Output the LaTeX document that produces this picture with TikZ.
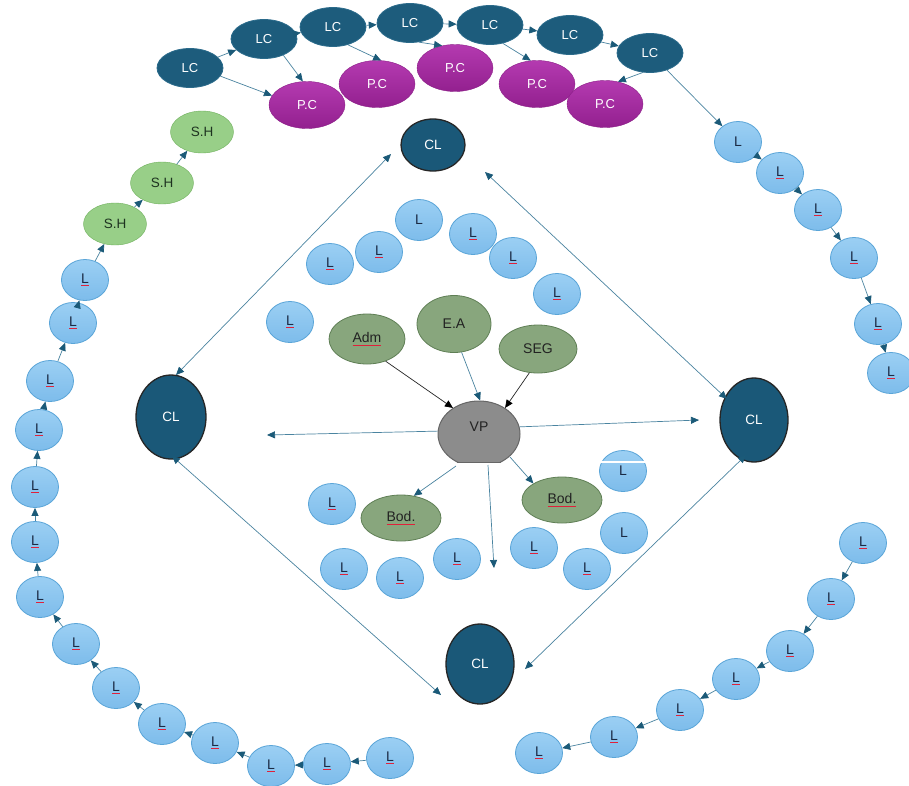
\documentclass[tikz,border=0pt]{standalone}
\usepackage{fontspec}
\setmainfont{Liberation Sans}
\usetikzlibrary{shapes.geometric,arrows.meta}
\definecolor{lcb}{HTML}{1D5C7C}
\definecolor{lcd}{HTML}{2B6B8B}
\definecolor{clf}{HTML}{1A5878}
\definecolor{pct}{HTML}{B43AB0}
\definecolor{pcb}{HTML}{93208F}
\definecolor{pcd}{HTML}{8A1C86}
\definecolor{shf}{HTML}{98CF88}
\definecolor{shd}{HTML}{6FB05C}
\definecolor{shtext}{HTML}{1E3320}
\definecolor{lt}{HTML}{9BCFF3}
\definecolor{lb}{HTML}{7DBCEB}
\definecolor{ld}{HTML}{5AA5D8}
\definecolor{ltext}{HTML}{1B2A44}
\definecolor{gnf}{HTML}{88A67D}
\definecolor{gnd}{HTML}{5F7F55}
\definecolor{gntext}{HTML}{222222}
\definecolor{vpf}{HTML}{8C8C8C}
\definecolor{lnc}{HTML}{4A84A0}
\definecolor{ahc}{HTML}{1B5A78}
\definecolor{sqred}{HTML}{E0203A}
\newsavebox\ulbox
\newcommand{\rl}[1]{\sbox\ulbox{#1}\leavevmode\rlap{\usebox\ulbox}\raisebox{-2.6pt}{\textcolor{sqred}{\rule{\wd\ulbox}{0.7pt}}}}
\tikzset{
  base/.style={ellipse, inner sep=0pt, font=\fontsize{13}{13}\selectfont},
  lc/.style={base, minimum width=66pt, minimum height=39pt, fill=lcb, draw=lcd, line width=0.8pt, text=white},
  pc/.style={base, minimum width=76pt, minimum height=47pt, top color=pct, bottom color=pcb, draw=pcd, text=white},
  sh/.style={base, minimum width=63pt, minimum height=42pt, fill=shf, draw=shd, text=shtext, font=\fontsize{13.5}{13.5}\selectfont},
  lnode/.style={base, minimum width=47pt, minimum height=41pt, top color=lt, bottom color=lb, draw=ld, line width=0.8pt, text=ltext, font=\fontsize{14}{14}\selectfont},
  gn/.style={base, minimum width=78pt, minimum height=50pt, fill=gnf, draw=gnd, line width=0.8pt, text=gntext, font=\fontsize{14}{14}\selectfont},
  cl/.style={base, fill=clf, draw=black!85, line width=1.3pt, text=white, font=\fontsize{13.5}{13.5}\selectfont},
  vpn/.style={base, fill=vpf, draw=black!60, line width=1pt},
  arr/.style={draw=lnc, line width=0.7pt, -{Triangle[length=8pt,width=7pt,color=ahc]}},
  darr/.style={draw=lnc, line width=0.7pt, {Triangle[length=8pt,width=7pt,color=ahc]}-{Triangle[length=8pt,width=7pt,color=ahc]}},
  barr/.style={draw=black!85, line width=0.7pt, -{Triangle[length=8pt,width=7pt,color=black]}}
}
\begin{document}
\begin{tikzpicture}[x=1pt,y=-1pt]
\useasboundingbox[fill=white] (0,0) rectangle (909,785);
% top LC row
\node[lc] (lc1) at (190,68) {LC};
\node[lc] (lc2) at (264,39) {LC};
\node[lc] (lc3) at (333,27) {LC};
\node[lc] (lc4) at (410,23) {LC};
\node[lc] (lc5) at (490,25) {LC};
\node[lc] (lc6) at (570,35) {LC};
\node[lc] (lc7) at (650,53) {LC};
% P.C row
\node[pc] (pc1) at (307,105) {P.C};
\node[pc] (pc2) at (377,84) {P.C};
\node[pc] (pc3) at (455,68) {P.C};
\node[pc] (pc4) at (537,84) {P.C};
\node[pc] (pc5) at (605,104) {P.C};
\draw[arr] (lc1) -- (lc2);
\draw[arr] (lc2) -- (lc3);
\draw[arr] (lc3) -- (lc4);
\draw[arr] (lc4) -- (lc5);
\draw[arr] (lc5) -- (lc6);
\draw[arr] (lc6) -- (lc7);
\draw[arr] (lc1.-15) -- (pc1.165);
\draw[arr] (lc2.-40) -- (pc1.100);
\draw[arr] (lc3.-50) -- (pc2.80);
\draw[arr] (lc4.-65) -- (pc3.120);
\draw[arr] (lc5.-55) -- (pc4.105);
\draw[arr] (lc7.-110) -- (pc5.60);
% right chain
\node[lnode] (r1) at (738,142) {L};
\node[lnode] (r2) at (780,173) {\rl{L}};
\node[lnode] (r3) at (818,210) {\rl{L}};
\node[lnode] (r4) at (854,258) {\rl{L}};
\node[lnode] (r5) at (878,324) {\rl{L}};
\node[lnode] (r6) at (891,373) {\rl{L}};
\draw[arr] (lc7) -- (r1);
\draw[arr] (r1) -- (r2);
\draw[arr] (r2) -- (r3);
\draw[arr] (r3) -- (r4);
\draw[arr] (r4) -- (r5);
\draw[arr] (r5) -- (r6);
% left chain
\node[lnode] (a1) at (390,758) {\rl{L}};
\node[lnode] (a2) at (327,764) {\rl{L}};
\node[lnode] (a3) at (271,766) {\rl{L}};
\node[lnode] (a4) at (215,743) {\rl{L}};
\node[lnode] (a5) at (162,724) {\rl{L}};
\node[lnode] (a6) at (116,688) {\rl{L}};
\node[lnode] (a7) at (76,644) {\rl{L}};
\node[lnode] (a8) at (40,597) {\rl{L}};
\node[lnode] (a9) at (35,542) {\rl{L}};
\node[lnode] (a10) at (35,487) {\rl{L}};
\node[lnode] (a11) at (39,430) {\rl{L}};
\node[lnode] (a12) at (50,381) {\rl{L}};
\node[lnode] (a13) at (73,323) {\rl{L}};
\node[lnode] (a14) at (85,280) {\rl{L}};
\node[sh] (sh3) at (115,224) {S.H};
\node[sh] (sh2) at (162,183) {S.H};
\node[sh] (sh1) at (202,132) {S.H};
\foreach \p/\q in {a1/a2,a2/a3,a3/a4,a4/a5,a5/a6,a6/a7,a7/a8,a8/a9,a9/a10,a10/a11,a11/a12,a12/a13,a13/a14,a14/sh3,sh3/sh2,sh2/sh1}
  \draw[arr] (\p) -- (\q);
% bottom right chain
\node[lnode] (b1) at (863,543) {\rl{L}};
\node[lnode] (b2) at (831,599) {\rl{L}};
\node[lnode] (b3) at (790,651) {\rl{L}};
\node[lnode] (b4) at (736,679) {\rl{L}};
\node[lnode] (b5) at (680,710) {\rl{L}};
\node[lnode] (b6) at (614,737) {\rl{L}};
\node[lnode] (b7) at (539,753) {\rl{L}};
\foreach \p/\q in {b1/b2,b2/b3,b3/b4,b4/b5,b5/b6,b6/b7}
  \draw[arr] (\p) -- (\q);
% CL diamond
\node[cl, minimum width=64pt, minimum height=52pt] (clt) at (433,145) {CL};
\node[cl, minimum width=70pt, minimum height=84pt] (cll) at (171,417) {CL};
\node[cl, minimum width=68pt, minimum height=84pt] (clr) at (754,420) {CL};
\node[cl, minimum width=68pt, minimum height=80pt] (clb) at (480,664) {CL};
\coordinate (d1a) at (391,154);
\coordinate (d1b) at (176,375);
\coordinate (d2a) at (485,172);
\coordinate (d2b) at (727,399);
\coordinate (d3a) at (172,456);
\coordinate (d3b) at (441,695);
\coordinate (d4a) at (746,455);
\coordinate (d4b) at (525,669);
\draw[darr] (d1a) -- (d1b);
\draw[darr] (d2a) -- (d2b);
\draw[darr] (d3a) -- (d3b);
\draw[darr] (d4a) -- (d4b);
% inner L nodes
\node[lnode] (i1) at (419,220) {L};
\node[lnode] (i2) at (330,264) {\rl{L}};
\node[lnode] (i3) at (379,252) {\rl{L}};
\node[lnode] (i4) at (473,234) {\rl{L}};
\node[lnode] (i5) at (513,258) {\rl{L}};
\node[lnode] (i6) at (557,294) {\rl{L}};
\node[lnode] (i7) at (290,322) {\rl{L}};
\node[lnode] (i8) at (332,504) {\rl{L}};
\node[lnode] (i9) at (344,569) {\rl{L}};
\node[lnode] (i10) at (400,578) {\rl{L}};
\node[lnode] (i11) at (457,559) {\rl{L}};
\node[lnode] (i12) at (534,548) {\rl{L}};
\node[lnode] (i13) at (587,569) {\rl{L}};
\node[lnode] (i14) at (624,533) {L};
\node[lnode] (i15) at (623,471) {L};
\draw[white, line width=2.5pt] (596,462) -- (652,462);
% green nodes
\node[gn, minimum width=76pt, minimum height=50pt] (adm) at (367,339) {\rl{Adm}};
\node[gn, minimum width=74pt, minimum height=57pt] (ea) at (454,324) {E.A};
\node[gn, minimum width=78pt, minimum height=48pt] (seg) at (538,349) {SEG};
\node[gn, minimum width=80pt, minimum height=46pt] (bodl) at (401,518) {\rl{Bod.}};
\node[gn, minimum width=80pt, minimum height=46pt] (bodr) at (562,500) {\rl{Bod.}};
% VP (ellipse with a flattened bottom)
\begin{scope}
\clip (420,380) rectangle (540,462);
\node[vpn, minimum width=82pt, minimum height=66pt] (vp) at (479,434) {};
\end{scope}
\draw[black!60, line width=1pt] (457,462) -- (501,462);
\node[text=gntext, font=\fontsize{14}{14}\selectfont] (vptext) at (479,427) {VP};
\coordinate (vl) at (267,435);
\coordinate (vr) at (699,420);
\coordinate (vd) at (494,568);
\coordinate (vb1) at (456,466);
\coordinate (vb2) at (488,465);
\coordinate (vb3) at (510,457);
\draw[barr] (adm.-50) -- (vp.135);
\draw[arr] (ea.-75) -- (vp.88);
\draw[barr] (seg.-110) -- (vp.45);
\draw[arr] (vp.176) -- (vl);
\draw[arr] (vp.10) -- (vr);
\draw[arr] (vb2) -- (vd);
\draw[arr] (vb1) -- (bodl.60);
\draw[arr] (vb3) -- (bodr.150);
\end{tikzpicture}
\end{document}
